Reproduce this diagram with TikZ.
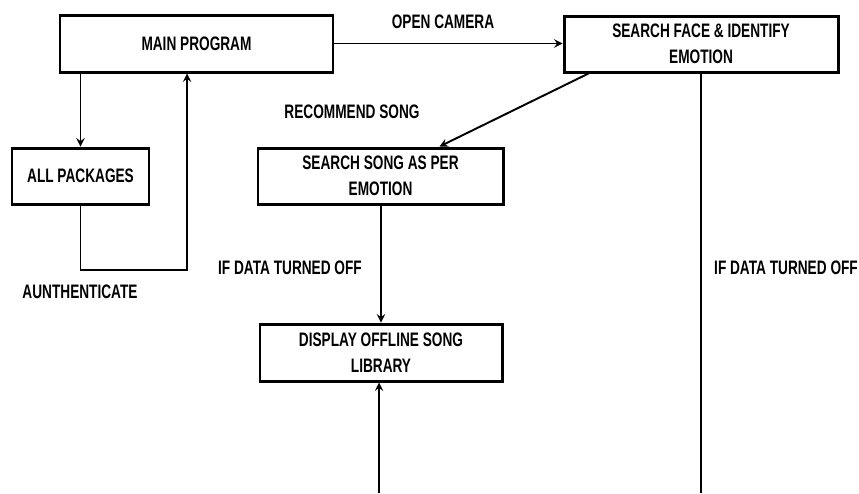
\documentclass[tikz,border=0pt]{standalone}
\usepackage{fontspec}
\setmainfont{Liberation Sans}[FakeStretch=0.7]
\usetikzlibrary{calc,arrows}

\begin{document}
\begin{tikzpicture}[box/.style={rectangle, draw, line width=1.7pt, align=center,
    font=\fontsize{11.1}{14.6}\selectfont\bfseries}, lbl/.style={font=\fontsize{11.1}{14.6}\selectfont\bfseries},
    >=stealth, line width=1.1pt]
    \useasboundingbox (0,0) rectangle (17.18,-9.86);
    \node[box,minimum width=5.46cm,minimum height=1.14cm] (main) at (3.93,-0.87) {MAIN PROGRAM};
    \node[box,minimum width=2.74cm,minimum height=1.12cm] (pkg) at (1.61,-3.52) {ALL PACKAGES};
    \node[box,minimum width=5.48cm,minimum height=1.12cm] (face) at (14.02,-0.88) {SEARCH FACE \& IDENTIFY\\EMOTION};
    \node[box,minimum width=4.9cm,minimum height=1.12cm] (song) at (7.61,-3.52) {SEARCH SONG AS PER\\EMOTION};
    \node[box,minimum width=4.84cm,minimum height=1.14cm] (disp) at (7.62,-7.05) {DISPLAY OFFLINE SONG\\LIBRARY};
    \node[lbl] (open) at (8.86,-0.44) {OPEN CAMERA};
    \node[lbl] (rec) at (7.04,-2.24) {RECOMMEND SONG};
    \node[lbl] (auth) at (1.6,-5.84) {AUNTHENTICATE};
    \node[lbl] (off1) at (5.8,-5.36) {IF DATA TURNED OFF};
    \node[lbl] (off2) at (15.72,-5.36) {IF DATA TURNED OFF};
    \coordinate (loop) at (3.74,-5.4);
    \coordinate (low1) at (7.58,-9.86);
    \coordinate (low2) at (14.02,-9.86);
    \draw[->] (main.south -| pkg.north) -- (pkg.north);
    \draw[->] (pkg.south) |- (loop) -- (loop |- main.south);
    \draw[->] (main.east) -- (main.east -| face.west);
    \draw[->] ([xshift=0.52cm]face.south west) -- ([xshift=1.18cm]song.north);
    \draw (face.south) -- (low2);
    \draw[->] (song.south -| disp.north) -- (disp.north);
    \draw[->] (low1) -- (low1 |- disp.south);
\end{tikzpicture}
\end{document}
